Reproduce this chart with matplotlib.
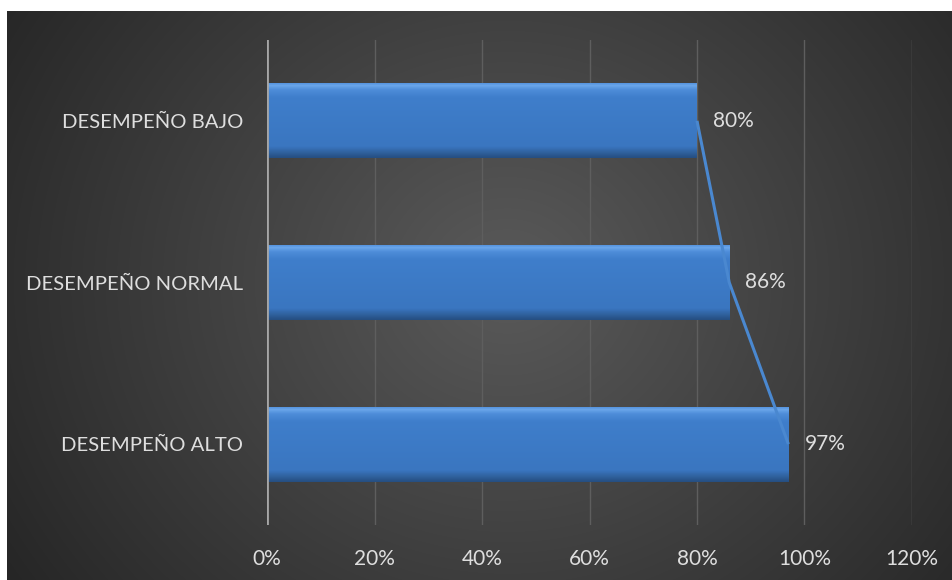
import numpy as np
import matplotlib.pyplot as plt
from matplotlib.colors import LinearSegmentedColormap

# data
categories = ['DESEMPEÑO ALTO', 'DESEMPEÑO NORMAL', 'DESEMPEÑO BAJO']
values = [0.97, 0.86, 0.80]
xticks = [0, 0.2, 0.4, 0.6, 0.8, 1.0, 1.2]
xticklabels = ['0%', '20%', '40%', '60%', '80%', '100%', '120%']

W, H = 953, 580
fig = plt.figure(figsize=(W / 100, H / 100), dpi=100, facecolor='white')
plt.rcParams['font.family'] = ['Lato', 'DejaVu Sans']

# radial dark background (starts a few px in from the top/left, like the source)
bg = fig.add_axes([7 / W, 0, 1 - 7 / W, 1 - 11 / H])
bg.set_axis_off()
yy, xx = np.mgrid[0:569, 0:946]
cx, cy = 500, 270
r = np.hypot(xx - cx, (yy - cy) * 1.1) / 620
r = np.clip(r, 0, 1)
shade = 0x5a - (0x5a - 0x24) * r ** 1.0
img = np.dstack([shade, shade, shade]) / 255
bg.imshow(img, aspect='auto', extent=[0, 1, 0, 1], origin='upper')
bg.set_xlim(0, 1)
bg.set_ylim(0, 1)

ax = fig.add_axes([267 / W, 1 - 525 / H, (912 - 267) / W, (525 - 40) / H])
ax.patch.set_alpha(0)

ypos = np.arange(len(categories))
bars = ax.barh(ypos, values, height=0.465, color='#3c7bc8', zorder=3)

# bevel-ish vertical gradient on each bar
grad_cmap = LinearSegmentedColormap.from_list(
    'bev', [(0, '#4f8fdc'), (0.04, '#6aa6ea'), (0.1, '#4d8cd8'), (0.2, '#3f7ecb'),
            (0.85, '#3a76c0'), (0.93, '#30629f'), (1, '#264f82')])
grad = np.linspace(0, 1, 100).reshape(-1, 1)
for b in bars:
    x0, y0 = b.get_x(), b.get_y()
    w, h = b.get_width(), b.get_height()
    im = ax.imshow(grad, cmap=grad_cmap, aspect='auto', origin='upper',
                   extent=[x0, x0 + w, y0, y0 + h], zorder=4)
    im.set_clip_path(b)

# trend line through the bar ends
ax.plot(values, ypos, color='#4a88d0', lw=2.2, zorder=5, solid_capstyle='butt')

for v, y in zip(values, ypos):
    ax.text(v + 0.03, y, f'{v:.0%}', va='center', ha='left',
            color='#dedede', fontsize=15)

ax.set_xlim(0, 1.2)
ax.set_ylim(-0.5, 2.5)
ax.set_xticks(xticks)
ax.set_xticklabels(xticklabels)
ax.set_yticks(ypos)
ax.set_yticklabels(categories)
ax.tick_params(axis='x', length=0, pad=17, labelsize=15, colors='#dedede')
ax.tick_params(axis='y', length=0, pad=17, labelsize=14.6, colors='#dedede')
ax.xaxis.grid(True, color='#5e5e5e', lw=1, zorder=0)
ax.set_axisbelow(True)
for s in ax.spines.values():
    s.set_visible(False)
ax.axvline(0, color='#a6a6a6', lw=2, zorder=6)

fig.savefig('out.png', dpi=100, facecolor='white')
